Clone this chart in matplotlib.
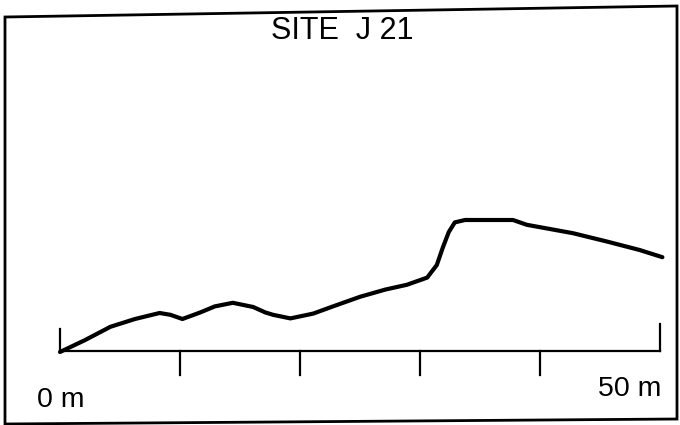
import matplotlib
matplotlib.use("Agg")
import matplotlib.pyplot as plt
from matplotlib.patches import Polygon

# profile of site J 21: distance along transect (m) and relative height (m)
distance_m = [0, 2.1, 4.2, 6.25, 8.3, 9.2, 10.2, 11.7, 12.9, 14.4, 16.1, 17.1,
              17.75, 19.2, 21.1, 22.75, 25.0, 27.1, 28.9, 30.6, 31.4, 31.9,
              32.4, 32.9, 33.75, 37.75, 38.9, 42.75, 45.6, 48.3, 50.2]
height_m = [0, 1.0, 2.1, 2.75, 3.25, 3.1, 2.75, 3.3, 3.8, 4.1, 3.75, 3.3,
            3.1, 2.8, 3.2, 3.8, 4.6, 5.2, 5.6, 6.2, 7.25, 8.7,
            10.0, 10.8, 11.0, 11.0, 10.6, 9.9, 9.2, 8.5, 7.9]

title = "SITE  J 21"
scale_ticks = [0, 10, 20, 30, 40, 50]
scale_labels = {0: "0 m", 50: "50 m"}

W, H = 680, 425
FONT = ["Liberation Sans", "DejaVu Sans"]


def px(x, y):
    # pixel (from top-left) -> figure fraction
    return x / W, 1 - y / H


def main():
    fig = plt.figure(figsize=(6.8, 4.25), dpi=100)
    fig.patch.set_facecolor("white")

    # axes: 0..50 m spans px 60..660, 12 px per metre vertically, base at y=352
    left, bottom = px(60, 352)
    ax = fig.add_axes([left, bottom, 600 / W, 144 / H])
    ax.set_xlim(0, 50)
    ax.set_ylim(0, 12)
    ax.axis("off")

    ax.plot(distance_m, height_m, color="black", lw=3.0,
            solid_joinstyle="round", solid_capstyle="round", clip_on=False)

    # scale bar
    ax.plot([scale_ticks[0], scale_ticks[-1]], [0.1, 0.1], color="black",
            lw=1.6, clip_on=False)
    for t in scale_ticks:
        if t in (scale_ticks[0], scale_ticks[-1]):
            top = 1.9 if t == scale_ticks[0] else 2.3
            ax.plot([t, t], [0.1, top], color="black", lw=1.6, clip_on=False)
        else:
            ax.plot([t, t], [0.1, -1.9], color="black", lw=1.6, clip_on=False)

    x0, y0 = px(37, 407)
    fig.text(x0, y0, scale_labels[0], fontsize=20.5, family=FONT,
             ha="left", va="baseline")
    x1, y1 = px(661, 396)
    fig.text(x1, y1, scale_labels[50], fontsize=20.5, family=FONT,
             ha="right", va="baseline")

    tx, ty = px(342, 39)
    fig.text(tx, ty, title, fontsize=22, family=FONT, ha="center",
             va="baseline")

    # hand-drawn frame
    corners = [px(5, 17), px(677, 6), px(677, 419), px(5, 424)]
    frame = Polygon(corners, closed=True, fill=False, edgecolor="black",
                    lw=2.0, transform=fig.transFigure)
    fig.patches.append(frame)

    fig.savefig("out.png", dpi=100, facecolor="white")


if __name__ == "__main__":
    main()
